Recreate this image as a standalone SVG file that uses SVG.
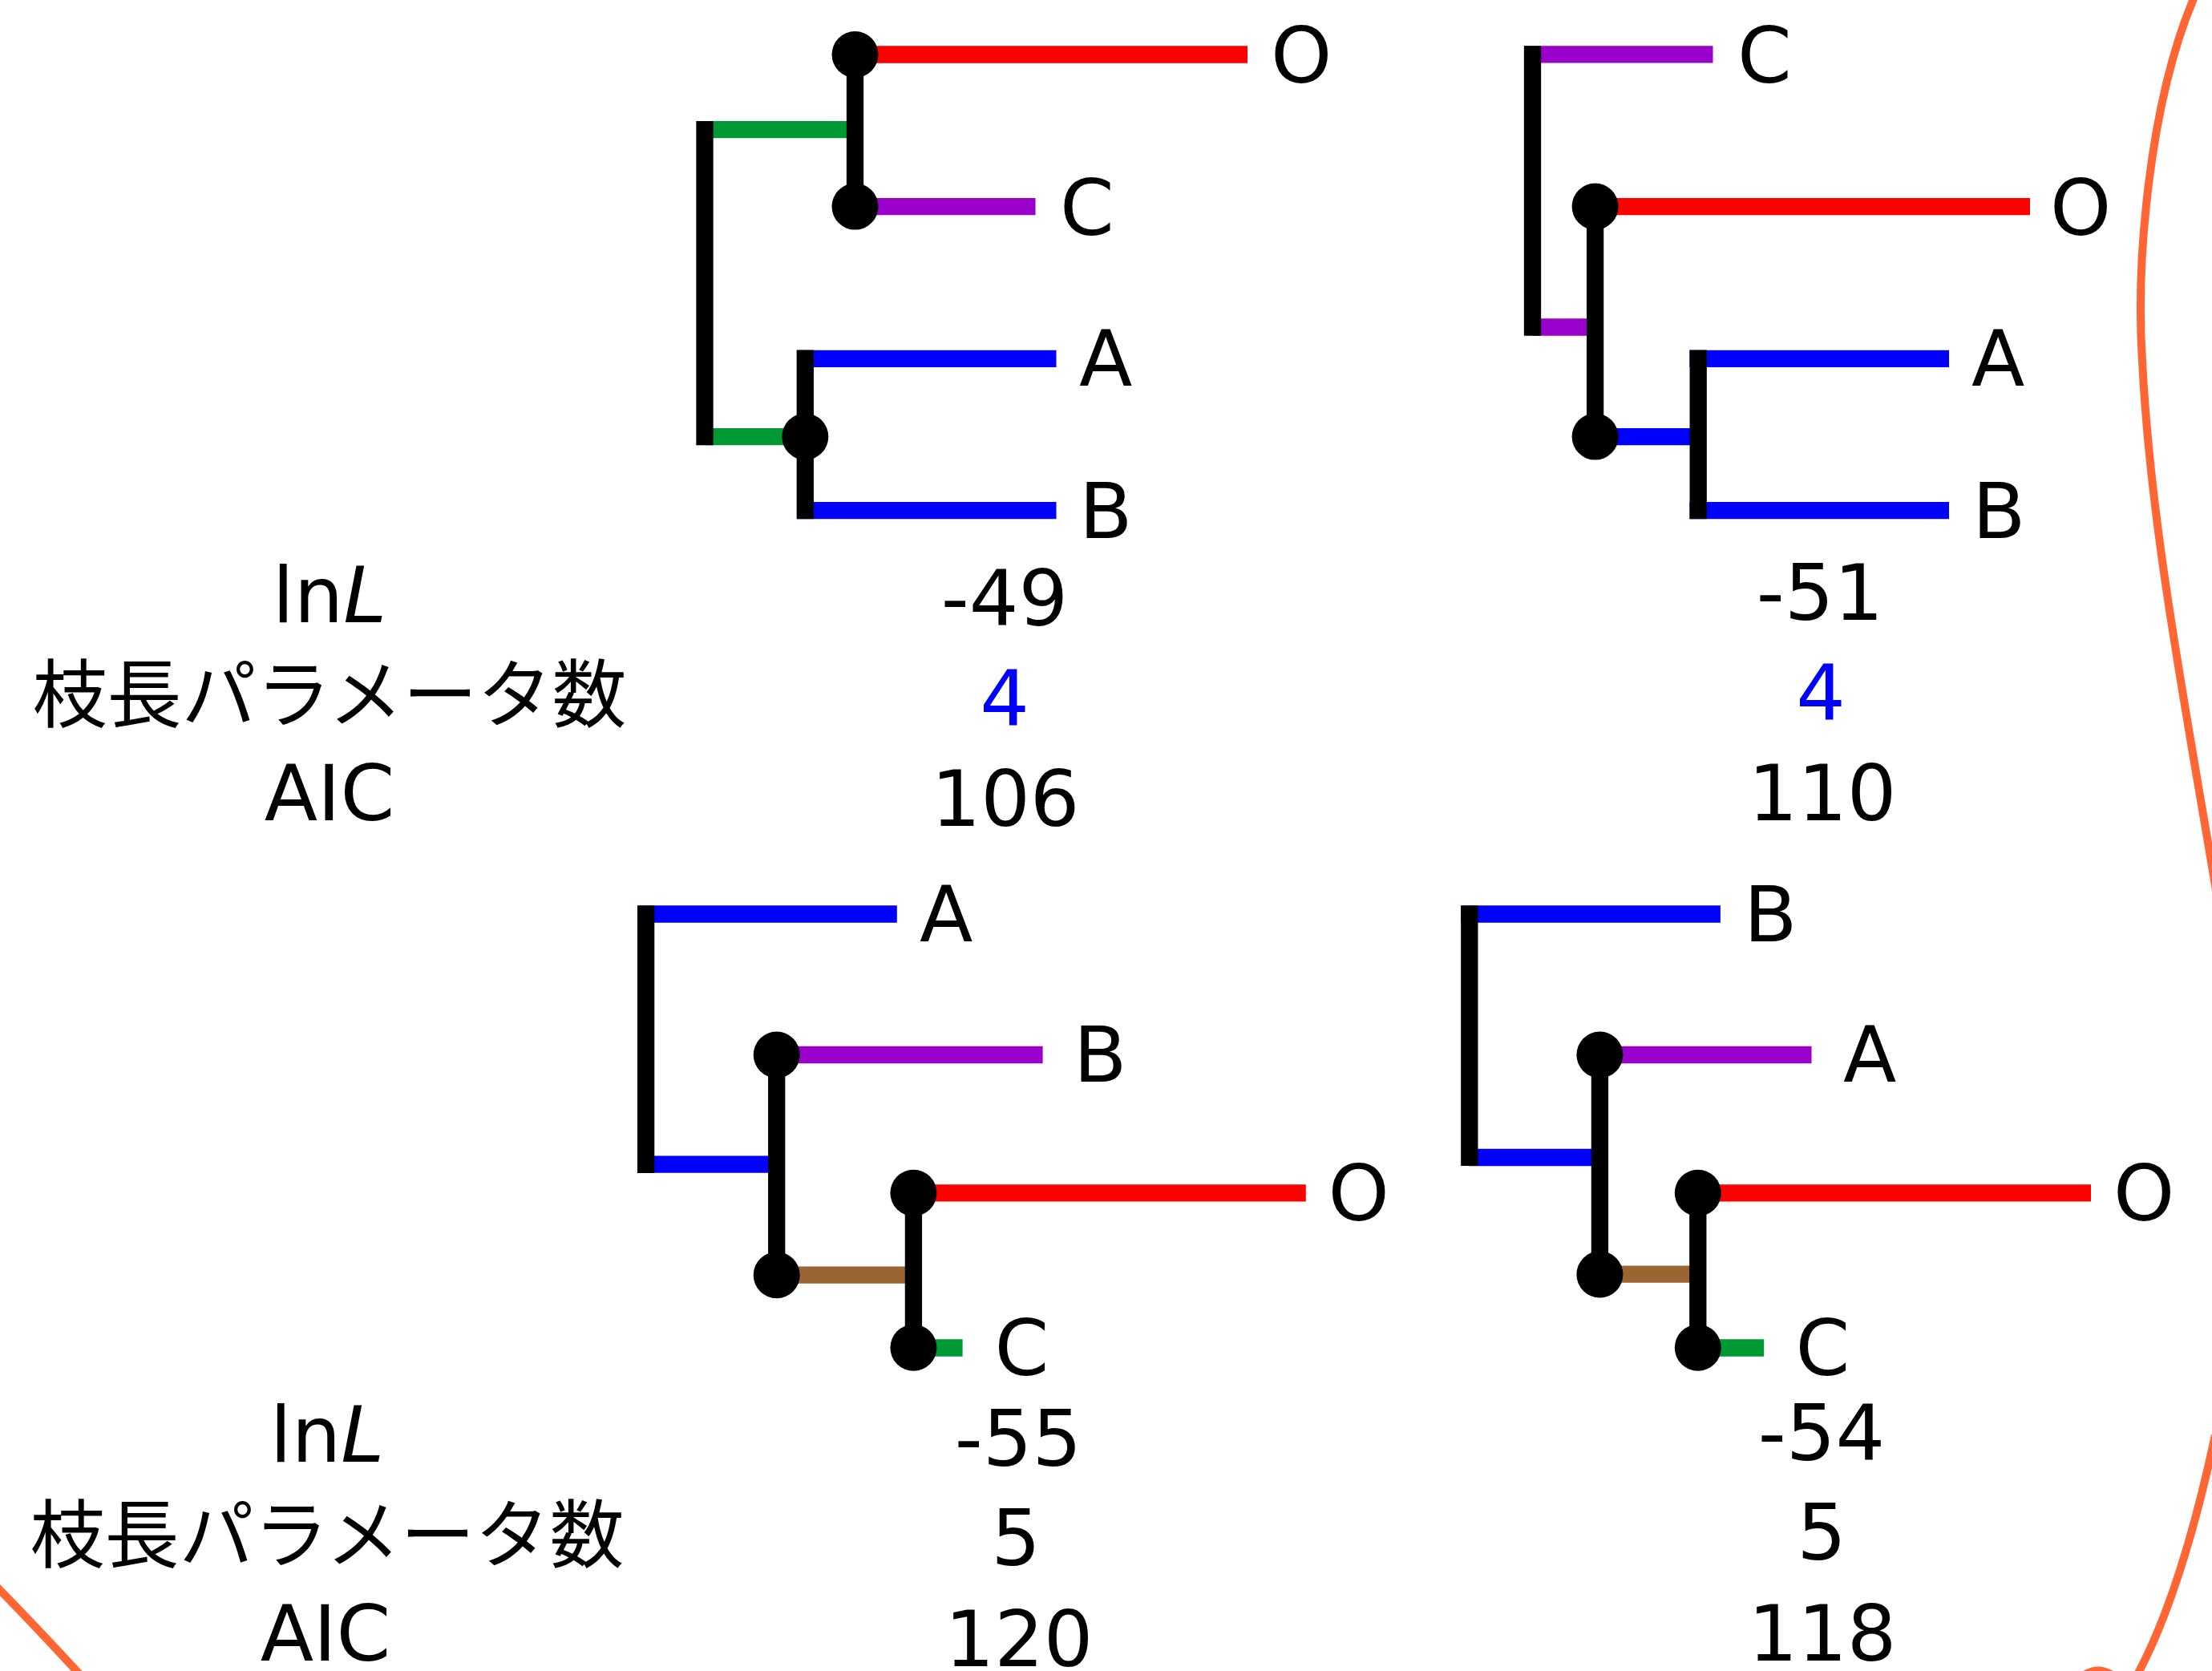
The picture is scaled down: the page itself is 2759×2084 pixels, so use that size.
<svg xmlns="http://www.w3.org/2000/svg" width="2759" height="2084" viewBox="0 0 2759 2084">
<style>
.br{stroke-width:21.3;stroke-linecap:butt;fill:none}
.k{stroke:#000000}.r{stroke:#ff0000}.p{stroke:#9900cc}.b{stroke:#0000ff}.g{stroke:#009933}.n{stroke:#996633}
.dot{fill:#000000}
.lab{font-family:"DejaVu Sans","Noto Sans",sans-serif;font-size:97px;fill:#000000}
.val{font-family:"DejaVu Sans","Noto Sans",sans-serif;font-size:97px;fill:#000000;text-anchor:middle}
.jp{font-family:"Noto Sans CJK JP","Noto Sans",sans-serif;font-size:93px;fill:#000000;text-anchor:middle}
.blue{fill:#0000ff}
.arc{stroke:#ff6633;stroke-width:10;fill:none}
</style>
<rect width="2759" height="2084" fill="#ffffff"/>

<g id="connectors">
  <!-- tree 1 -->
  <g id="tree1-branches">
    <line class="br r" x1="1066" y1="68" x2="1556" y2="68"/>
    <line class="br p" x1="1066" y1="257.6" x2="1291.5" y2="257.6"/>
    <line class="br g" x1="879" y1="161.6" x2="1066" y2="161.6"/>
    <line class="br g" x1="879" y1="544.6" x2="1004" y2="544.6"/>
    <line class="br b" x1="994" y1="447.3" x2="1317.5" y2="447.3"/>
    <line class="br b" x1="994" y1="636.6" x2="1317.5" y2="636.6"/>
    <line class="br k" x1="879" y1="151" x2="879" y2="555.3"/>
    <line class="br k" x1="1066.5" y1="68" x2="1066.5" y2="257.6"/>
    <line class="br k" x1="1004.3" y1="436.6" x2="1004.3" y2="647.3"/>
  </g>
  <!-- tree 2 -->
  <g id="tree2-branches">
    <line class="br p" x1="1901" y1="67.9" x2="2136.5" y2="67.9"/>
    <line class="br p" x1="1911" y1="408" x2="1989" y2="408"/>
    <line class="br r" x1="1989.6" y1="257.6" x2="2532" y2="257.6"/>
    <line class="br b" x1="1989.6" y1="544.6" x2="2118" y2="544.6"/>
    <line class="br b" x1="2107.4" y1="447.3" x2="2431" y2="447.3"/>
    <line class="br b" x1="2107.4" y1="636.6" x2="2431" y2="636.6"/>
    <line class="br k" x1="1911.5" y1="57.2" x2="1911.5" y2="418.7"/>
    <line class="br k" x1="1989.6" y1="257.6" x2="1989.6" y2="544.6"/>
    <line class="br k" x1="2118.2" y1="436.6" x2="2118.2" y2="647.3"/>
  </g>
  <!-- tree 3 -->
  <g id="tree3-branches">
    <line class="br b" x1="795" y1="1140" x2="1118.8" y2="1140"/>
    <line class="br b" x1="805" y1="1452.2" x2="968.7" y2="1452.2"/>
    <line class="br p" x1="968.7" y1="1315.5" x2="1300.6" y2="1315.5"/>
    <line class="br n" x1="968.7" y1="1590.2" x2="1139.4" y2="1590.2"/>
    <line class="br r" x1="1139.4" y1="1487.8" x2="1628.8" y2="1487.8"/>
    <line class="br g" x1="1139.4" y1="1681" x2="1200.6" y2="1681"/>
    <line class="br k" x1="805.6" y1="1129.4" x2="805.6" y2="1462.9"/>
    <line class="br k" x1="968.7" y1="1315.5" x2="968.7" y2="1590.2"/>
    <line class="br k" x1="1139.4" y1="1487.8" x2="1139.4" y2="1680.8"/>
  </g>
  <!-- tree 4 -->
  <g id="tree4-branches">
    <line class="br b" x1="1822" y1="1140" x2="2145.9" y2="1140"/>
    <line class="br b" x1="1832" y1="1443.5" x2="1995.4" y2="1443.5"/>
    <line class="br p" x1="1995.4" y1="1315.5" x2="2259.5" y2="1315.5"/>
    <line class="br n" x1="1995.4" y1="1589.2" x2="2117.8" y2="1589.2"/>
    <line class="br r" x1="2117.8" y1="1487.8" x2="2608" y2="1487.8"/>
    <line class="br g" x1="2117.8" y1="1681" x2="2200.2" y2="1681"/>
    <line class="br k" x1="1832.8" y1="1129.4" x2="1832.8" y2="1453.9"/>
    <line class="br k" x1="1995.4" y1="1315.5" x2="1995.4" y2="1589.4"/>
    <line class="br k" x1="2117.8" y1="1487.8" x2="2117.8" y2="1680.8"/>
  </g>
</g>

<!-- internal nodes -->
<g id="t1-n1"><circle class="dot" cx="1066.5" cy="68" r="29"/></g>
<g id="t1-n2"><circle class="dot" cx="1066.5" cy="257.6" r="29"/></g>
<g id="t1-n3"><circle class="dot" cx="1004.3" cy="544.6" r="29"/></g>
<g id="t2-n1"><circle class="dot" cx="1989.6" cy="257.6" r="29"/></g>
<g id="t2-n2"><circle class="dot" cx="1989.6" cy="544.6" r="29"/></g>
<g id="t3-n1"><circle class="dot" cx="968.7" cy="1315.5" r="29"/></g>
<g id="t3-n2"><circle class="dot" cx="968.7" cy="1590.2" r="29"/></g>
<g id="t3-n3"><circle class="dot" cx="1139.4" cy="1487.8" r="29"/></g>
<g id="t3-n4"><circle class="dot" cx="1139.4" cy="1680.8" r="29"/></g>
<g id="t4-n1"><circle class="dot" cx="1995.4" cy="1315.5" r="29"/></g>
<g id="t4-n2"><circle class="dot" cx="1995.4" cy="1589.4" r="29"/></g>
<g id="t4-n3"><circle class="dot" cx="2117.8" cy="1487.8" r="29"/></g>
<g id="t4-n4"><circle class="dot" cx="2117.8" cy="1680.8" r="29"/></g>

<!-- leaf labels -->
<g id="t1-O"><text class="lab" x="1585" y="103">O</text></g>
<g id="t1-C"><text class="lab" x="1322" y="292.5">C</text></g>
<g id="t1-A"><text class="lab" x="1346" y="481">A</text></g>
<g id="t1-B"><text class="lab" x="1346" y="670.5">B</text></g>
<g id="t2-C"><text class="lab" x="2167" y="102.5">C</text></g>
<g id="t2-O"><text class="lab" x="2557" y="292.5">O</text></g>
<g id="t2-A"><text class="lab" x="2459" y="481">A</text></g>
<g id="t2-B"><text class="lab" x="2460" y="670.5">B</text></g>
<g id="t3-A"><text class="lab" x="1147" y="1174">A</text></g>
<g id="t3-B"><text class="lab" x="1339" y="1349">B</text></g>
<g id="t3-O"><text class="lab" x="1656.5" y="1522">O</text></g>
<g id="t3-C"><text class="lab" x="1240.6" y="1715">C</text></g>
<g id="t4-B"><text class="lab" x="2175" y="1174">B</text></g>
<g id="t4-A"><text class="lab" x="2299" y="1349">A</text></g>
<g id="t4-O"><text class="lab" x="2636" y="1522">O</text></g>
<g id="t4-C"><text class="lab" x="2239.6" y="1715">C</text></g>

<!-- table rows -->
<g id="row-labels-top">
  <text class="val" x="411" y="776">ln<tspan font-style="italic">L</tspan></text>
  <text class="jp" x="411" y="900">枝長パラメータ数</text>
  <text class="val" x="411" y="1023">AIC</text>
</g>
<g id="values-t1">
  <text class="val" x="1253" y="780">-49</text>
  <text class="val blue" x="1253" y="905">4</text>
  <text class="val" x="1254" y="1030">106</text>
</g>
<g id="values-t2">
  <text class="val" x="2270" y="773">-51</text>
  <text class="val blue" x="2271" y="897.7">4</text>
  <text class="val" x="2273" y="1023">110</text>
</g>
<g id="row-labels-bottom">
  <text class="val" x="408" y="1823">ln<tspan font-style="italic">L</tspan></text>
  <text class="jp" x="408" y="1948">枝長パラメータ数</text>
  <text class="val" x="406" y="2071">AIC</text>
</g>
<g id="values-t3">
  <text class="val" x="1270" y="1828">-55</text>
  <text class="val" x="1267" y="1952">5</text>
  <text class="val" x="1271" y="2078">120</text>
</g>
<g id="values-t4">
  <text class="val" x="2272" y="1821">-54</text>
  <text class="val" x="2272" y="1945">5</text>
  <text class="val" x="2273" y="2071">118</text>
</g>

<!-- orange enclosing curves -->
<g id="outline">
  <path class="arc" d="M 2737 -4 C 2680 130 2664 330 2672 450 C 2682 650 2722 860 2764 1110"/>
  <path class="arc" d="M 2763 1790 Q 2720 1990 2664 2092"/>
  <path class="arc" d="M -6 1977 Q 46 2030 103 2092"/>
  <path class="arc" d="M 2598 2090 Q 2617 2077 2636 2090"/>
</g>
</svg>
